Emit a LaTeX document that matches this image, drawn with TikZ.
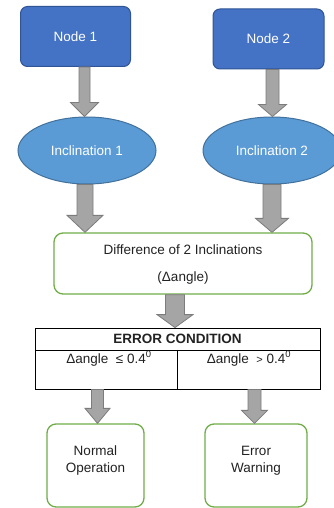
\documentclass[tikz,border=0pt]{standalone}
\usepackage{fontspec}
\setmainfont{Liberation Sans}
\usetikzlibrary{shapes.geometric,calc}
\definecolor{nodeblue}{HTML}{4472C4}
\definecolor{nodeblueb}{HTML}{2F5597}
\definecolor{ellblue}{HTML}{5B9BD5}
\definecolor{ellblueb}{HTML}{41719C}
\definecolor{boxgreen}{HTML}{70AD47}
\definecolor{arrfill}{HTML}{A5A5A5}
\definecolor{arrline}{HTML}{7C7C7C}
\definecolor{txt}{HTML}{222222}
\newcommand\barrow[6]{% #1 centre x, #2 shaft half, #3 head half, #4 head length, #5 from, #6 to
  \path[blockarrow] let \p1=(#5), \p2=(#6) in
    (#1pt-#2pt,\y1) -- (#1pt-#2pt,\y2+#4pt) -- (#1pt-#3pt,\y2+#4pt) -- (#1pt,\y2)
    -- (#1pt+#3pt,\y2+#4pt) -- (#1pt+#2pt,\y2+#4pt) -- (#1pt+#2pt,\y1) -- cycle;}
\begin{document}
\begin{tikzpicture}[x=1pt,y=-1pt,
  every node/.style={font=\fontsize{13.5}{17}\selectfont, text=txt, inner sep=0pt},
  bluebox/.style={draw=nodeblueb, fill=nodeblue, line width=1pt, rounded corners=7pt, text=white},
  blueell/.style={ellipse, draw=ellblueb, fill=ellblue, line width=1pt, text=white},
  greenbox/.style={draw=boxgreen, line width=1.3pt, rounded corners=9pt, fill=white},
  cell/.style={draw=black, line width=0.8pt},
  blockarrow/.style={draw=arrline, fill=arrfill, line width=0.8pt, line join=miter}]
\useasboundingbox (0,0) rectangle (333,508);
\fill[white] (0,0) rectangle (333,508);
% top nodes
\node[bluebox, minimum width=110pt, minimum height=60pt] (n1) at (75.5,36.5) {Node 1};
\node[bluebox, minimum width=111pt, minimum height=60pt] (n2) at (268.5,39) {Node 2};
% ellipses
\node[blueell, minimum width=138pt, minimum height=67pt] (i1) at (87,150.5) {Inclination 1};
\node[blueell, minimum width=138pt, minimum height=67pt] (i2) at (272,150.5) {Inclination 2};
% difference box
\node[greenbox, minimum width=258pt, minimum height=61pt] (diff) at (183,263.5) {};
\node (d1) at (183,250) {Difference of 2 Inclinations};
\node (d2) at (183,278) {(Δangle)};
% table
\node[cell, minimum width=285pt, minimum height=22pt] (hdr) at (177.5,339) {\bfseries ERROR CONDITION};
\node[cell, minimum width=142pt, minimum height=39pt] (lcell) at (106,369.5) {};
\node[cell, minimum width=143pt, minimum height=39pt] (rcell) at (248.5,369.5) {};
\node (lt) at (109,358.5) {Δangle\ \ ≤ 0.4\textsuperscript{0}};
\node (rt) at (249,358.5) {Δangle\ \ {\fontsize{11}{13}\selectfont>} 0.4\textsuperscript{0}};
% outcome boxes
\node[greenbox, minimum width=97pt, minimum height=83pt] (norm) at (95.5,465.5) {};
\node[align=center] (normt) at (95.5,460.5) {Normal\\Operation};
\node[greenbox, minimum width=102pt, minimum height=83pt] (err) at (256,465.5) {};
\node[align=center] (errt) at (256,460.5) {Error\\Warning};
% block arrows
\barrow{84.5}{5.5}{14}{14}{n1.south}{i1.north}
\barrow{272.5}{6.5}{14}{12}{n2.south}{i2.north}
\barrow{85}{8}{18}{17}{i1.south}{diff.north}
\barrow{272}{9}{16.5}{14}{i2.south}{diff.north}
\barrow{175}{9.5}{18}{13}{diff.south}{hdr.north}
\barrow{97.5}{6}{12.5}{15}{lcell.south}{norm.north}
\barrow{254.5}{6.5}{13}{13}{rcell.south}{err.north}
\end{tikzpicture}
\end{document}
